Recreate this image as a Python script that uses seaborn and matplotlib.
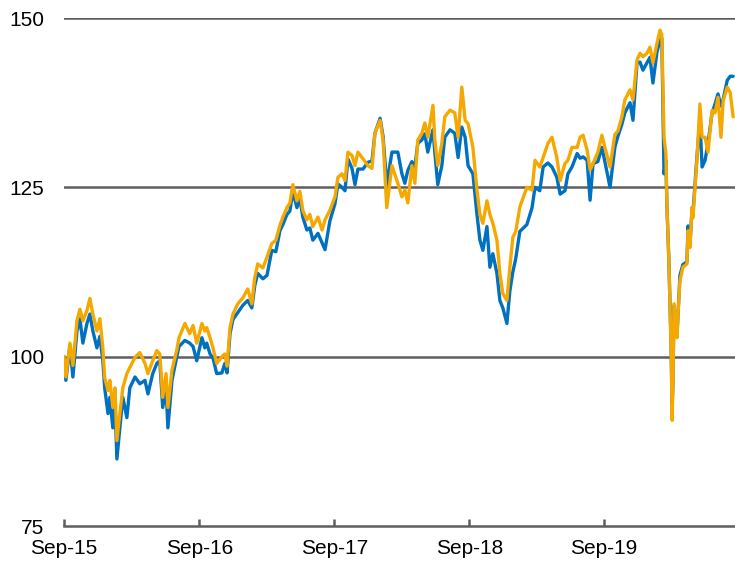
import matplotlib
matplotlib.use("Agg")
import matplotlib.pyplot as plt
import pandas as pd
import seaborn as sns

dates = [
    "2015-09-01", "2015-09-06", "2015-09-17", "2015-09-25", "2015-10-06", "2015-10-14", "2015-10-22",
    "2015-11-02", "2015-11-10", "2015-11-18", "2015-11-29", "2015-12-07", "2015-12-15", "2015-12-20",
    "2015-12-29", "2016-01-03", "2016-01-11", "2016-01-17", "2016-01-22", "2016-01-30", "2016-02-07",
    "2016-02-18", "2016-02-26", "2016-03-11", "2016-03-24", "2016-04-07", "2016-04-15", "2016-04-28",
    "2016-05-09", "2016-05-17", "2016-05-25", "2016-06-03", "2016-06-08", "2016-06-19", "2016-07-02",
    "2016-07-08", "2016-07-24", "2016-08-06", "2016-08-15", "2016-08-25", "2016-09-08", "2016-09-16",
    "2016-09-21", "2016-09-30", "2016-10-08", "2016-10-18", "2016-11-01", "2016-11-09", "2016-11-15",
    "2016-11-23", "2016-12-01", "2016-12-14", "2016-12-28", "2017-01-10", "2017-01-21", "2017-01-29",
    "2017-02-06", "2017-02-20", "2017-03-03", "2017-03-16", "2017-03-27", "2017-04-07", "2017-04-15",
    "2017-04-26", "2017-05-04", "2017-05-12", "2017-05-23", "2017-05-31", "2017-06-08", "2017-06-19",
    "2017-06-27", "2017-07-05", "2017-07-19", "2017-07-30", "2017-08-07", "2017-08-20", "2017-09-03",
    "2017-09-11", "2017-09-22", "2017-09-30", "2017-10-08", "2017-10-19", "2017-10-27", "2017-11-04",
    "2017-11-18", "2017-12-01", "2017-12-12", "2017-12-20", "2018-01-03", "2018-01-11", "2018-01-21",
    "2018-02-04", "2018-02-20", "2018-03-03", "2018-03-11", "2018-03-19", "2018-03-30", "2018-04-07",
    "2018-04-15", "2018-04-26", "2018-05-04", "2018-05-12", "2018-05-26", "2018-05-31", "2018-06-08",
    "2018-06-19", "2018-06-27", "2018-07-11", "2018-07-24", "2018-08-02", "2018-08-12", "2018-08-21",
    "2018-08-29", "2018-09-11", "2018-09-22", "2018-09-30", "2018-10-08", "2018-10-19", "2018-10-27",
    "2018-11-04", "2018-11-15", "2018-11-23", "2018-12-01", "2018-12-12", "2018-12-20", "2018-12-28",
    "2019-01-05", "2019-01-16", "2019-02-04", "2019-02-18", "2019-02-26", "2019-03-11", "2019-03-20",
    "2019-04-02", "2019-04-13", "2019-04-26", "2019-05-05", "2019-05-18", "2019-05-26", "2019-06-06",
    "2019-06-20", "2019-06-28", "2019-07-06", "2019-07-17", "2019-07-25", "2019-08-02", "2019-08-15",
    "2019-08-26", "2019-09-03", "2019-09-17", "2019-09-30", "2019-10-08", "2019-10-19", "2019-10-27",
    "2019-11-10", "2019-11-18", "2019-11-29", "2019-12-07", "2019-12-15", "2019-12-26", "2020-01-03",
    "2020-01-11", "2020-01-22", "2020-01-30", "2020-02-04", "2020-02-10", "2020-02-15", "2020-02-18",
    "2020-02-23", "2020-02-29", "2020-03-03", "2020-03-05", "2020-03-08", "2020-03-16", "2020-03-19",
    "2020-03-24", "2020-04-01", "2020-04-12", "2020-04-15", "2020-04-20", "2020-04-26", "2020-04-28",
    "2020-05-04", "2020-05-09", "2020-05-17", "2020-05-23", "2020-05-31", "2020-06-08", "2020-06-19",
    "2020-06-27", "2020-07-05", "2020-07-13", "2020-07-19", "2020-07-30", "2020-08-07", "2020-08-15",
]

blue_values = [
    100, 96.5, 101.5, 97, 103.8, 105.6, 102,
    104.9, 106.3, 103.8, 101.3, 103, 99.4, 95.4,
    91.6, 94, 89.5, 93, 84.9, 89.5, 94,
    91, 95.4, 97, 96, 96.5, 94.5, 97.5,
    99, 99.4, 92.5, 95.4, 89.5, 96.5, 100,
    101.5, 102.4, 102, 101.5, 99.4, 102.8, 101.3,
    102, 100.4, 99.8, 97.5, 97.6, 99, 97.6,
    103.4, 105.5, 106.5, 107.6, 108.3, 107.2, 110.5,
    112.3, 111.5, 112, 115.7, 115.5, 118.6, 119.5,
    121, 121.5, 124.4, 122, 123.4, 120.6, 118.7,
    119, 117.2, 118.2, 116.8, 115.8, 120, 122.6,
    125.5, 125, 124.5, 129.2, 127.8, 125.4, 127.7,
    127.7, 128.7, 128.9, 133, 135.2, 132.5, 125.4,
    130.2, 130.2, 127, 125.6, 127.5, 128.8, 128,
    131.5, 132, 132.9, 130.2, 133.5, 130.2, 125.4,
    128.2, 132.4, 133.5, 133, 129.4, 133.9, 132.4,
    128.2, 127, 121, 117.2, 115.7, 119.2, 113.2,
    115.2, 112.3, 108.3, 107.2, 104.9, 109.7, 112.5,
    114.5, 118.5, 119.5, 122, 125, 124.5, 128,
    128.6, 128, 126.5, 124, 124.5, 127, 128,
    130, 129.3, 129.5, 129, 123.1, 128.5, 128.8,
    130.9, 128.8, 125, 130.9, 132.5, 134.3, 136,
    137.5, 134.9, 143.4, 143.5, 142.3, 143.4, 144.2,
    140.4, 145, 146.7, 147, 127, 129, 122,
    114.5, 101.8, 93, 95.8, 107.5, 103, 106.5,
    112, 113.6, 114, 119.3, 116.4, 122, 121,
    125.6, 129.5, 135, 128, 129, 131.5, 136,
    137.3, 138.8, 137, 138, 140.8, 141.4, 141.4,
]

orange_values = [
    100, 97, 102, 98.7, 105.3, 107, 105.3,
    106.8, 108.6, 106.3, 103.8, 105.6, 101.3, 96.9,
    95, 96.5, 92.5, 95.4, 87.6, 91.6, 95.4,
    97.5, 98.4, 99.9, 100.6, 99, 97.5, 99.4,
    100.9, 100.4, 94, 97.5, 92.5, 98, 101,
    102.8, 104.9, 103.4, 104.6, 102, 104.9, 103.8,
    104.3, 102.8, 101.3, 99, 100, 100.4, 98.6,
    104.3, 106.3, 107.8, 108.7, 110, 107.8, 111.7,
    113.7, 113.1, 114.7, 116.7, 117.2, 119.4, 120.6,
    122, 122.7, 125.4, 123, 124.4, 121.6, 120.2,
    121, 119.2, 120.6, 118.7, 120.2, 121.6, 123.6,
    126.5, 127, 126, 130.2, 129.7, 128.2, 130.2,
    129.2, 128.2, 127.8, 133, 134.9, 132, 122,
    128.2, 125.6, 123.6, 124.6, 122.7, 128.2, 125.6,
    132, 133, 134.5, 132.4, 137.1, 132, 128.2,
    131.5, 135.4, 136.4, 136, 132.4, 139.8, 134.9,
    134.4, 130.9, 124.6, 121, 119.7, 123, 121,
    119.7, 117.2, 112.3, 109.3, 108.3, 113.2, 117.6,
    118.5, 122.1, 125, 124.6, 129, 128, 129.4,
    131.5, 132.4, 129.4, 126, 128.5, 129, 130.9,
    130.9, 132.4, 132.7, 130.5, 127.6, 128.5, 130.2,
    132.7, 130.9, 128, 132.8, 133.3, 135.4, 137.9,
    139.4, 137.9, 143.8, 144.8, 144.3, 144.8, 145.7,
    143.4, 146.3, 148.2, 147.5, 132.4, 130, 122,
    114.3, 101.4, 90.6, 95.4, 107.8, 102.8, 106.3,
    111.2, 113.2, 113.7, 118.6, 116.1, 122, 120.5,
    125, 129, 137.3, 132.4, 132.4, 130.2, 136.4,
    136, 138.3, 132.4, 137.8, 139.8, 139, 135.4,
]

tick_dates = ["2015-09-01", "2016-09-01", "2017-09-01", "2018-09-01", "2019-09-01"]
tick_labels = ["Sep-15", "Sep-16", "Sep-17", "Sep-18", "Sep-19"]
y_ticks = [75, 100, 125, 150]

df = pd.DataFrame({
    "date": pd.to_datetime(dates),
    "blue": blue_values,
    "orange": orange_values,
})

sns.set_style("white")
plt.rcParams["font.family"] = ["Liberation Sans", "DejaVu Sans"]

fig = plt.figure(figsize=(7.35, 5.63), dpi=100)
ax = fig.add_axes([0.0871, 0.0657, 0.9129, 0.9023])

grid_color = "#5E5E5E"
for yv in y_ticks[1:]:
    ax.axhline(yv, color=grid_color, lw=1.8, zorder=1)

sns.lineplot(data=df, x="date", y="blue", ax=ax, color="#0070C0", lw=2.4, zorder=3)
sns.lineplot(data=df, x="date", y="orange", ax=ax, color="#F5A800", lw=2.4, zorder=4)

ax.set_xlim(pd.Timestamp("2015-09-01"), pd.Timestamp("2020-08-20"))
ax.set_ylim(75, 150)
ax.set_yticks(y_ticks)
ax.set_yticklabels([str(v) for v in y_ticks])
ax.set_xticks(pd.to_datetime(tick_dates))
ax.set_xticklabels(tick_labels)
ax.set_xlabel("")
ax.set_ylabel("")

for s in ["left", "top", "right"]:
    ax.spines[s].set_visible(False)
ax.spines["bottom"].set_color(grid_color)
ax.spines["bottom"].set_linewidth(1.8)
ax.spines["bottom"].set_zorder(2)

ax.tick_params(axis="x", bottom=True, direction="in", length=5, width=1.8, color=grid_color,
               labelsize=15, pad=9, labelcolor="black")
ax.tick_params(axis="y", left=False, length=0, labelsize=15, pad=14, labelcolor="black")

fig.savefig("out.png", dpi=100)
